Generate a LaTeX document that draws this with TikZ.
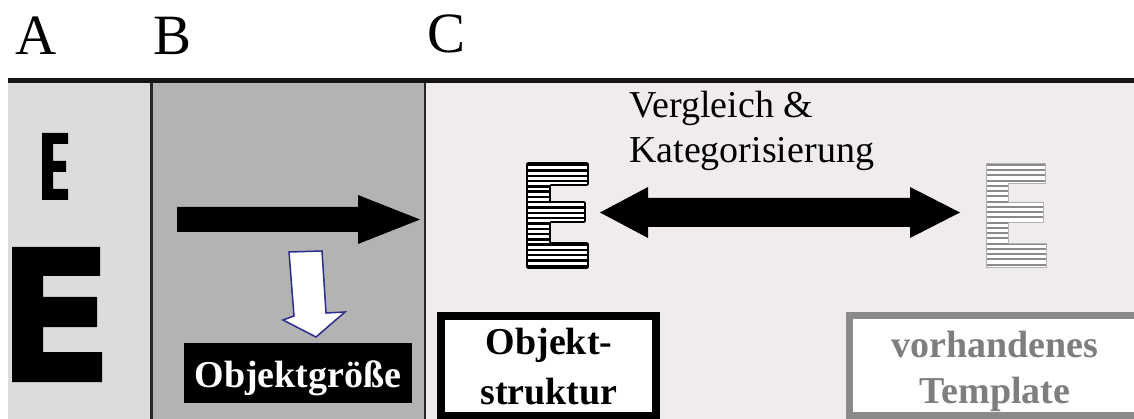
\documentclass[tikz,border=0pt]{standalone}
\usepackage{fontspec}
\setmainfont{Liberation Serif}
\definecolor{panelA}{HTML}{DCDCDC}
\definecolor{panelB}{HTML}{B3B3B3}
\definecolor{panelC}{HTML}{EFECEB}
\definecolor{topline}{HTML}{151515}
\definecolor{arrowBlue}{HTML}{2B2B8C}
\definecolor{tmplGray}{HTML}{8A8A8A}
\definecolor{tmplText}{HTML}{7E7E7E}
\tikzset{
  headlabel/.style={anchor=base west, inner sep=0pt, font=\fontsize{57}{57}\selectfont},
  midtext/.style={anchor=base west, inner sep=0pt, font=\fontsize{38}{38}\selectfont},
  boldtext/.style={anchor=base, inner sep=0pt, font=\bfseries\fontsize{38}{38}\selectfont},
  blockarrow/.style={fill=black},
}
\begin{document}
\begin{tikzpicture}[x=1pt,y=-1pt]
\useasboundingbox (0,0) rectangle (1134,419);
\begin{scope}
\clip (0,0) rectangle (1134,419);
\fill[white] (0,0) rectangle (1134,419);
% panels
\fill[panelA] (8,80) rectangle (151,419);
\fill[panelB] (151,80) rectangle (425,419);
\fill[panelC] (425,80) rectangle (1134,419);
\draw[line width=2.5pt, black!85] (151.5,80) -- (151.5,419);
\draw[line width=2pt, black!85] (425,80) -- (425,419);
\draw[line width=5pt, topline] (8,80.5) -- (1134,80.5);

% labels
\node[headlabel] (lA) at (15,55) {A};
\node[headlabel] (lB) at (153,55) {B};
\node[headlabel] (lC) at (427,53) {C};

% panel A letters
\fill[black] (42,133) -- (68,133) -- (68,144) -- (53,144) -- (53,161) -- (66,161) -- (66,172) -- (53,172) -- (53,189) -- (68,189) -- (68,200) -- (42,200) -- cycle;
\fill[black] (12,247) -- (100,247) -- (100,276) -- (43,276) -- (43,297) -- (97,297) -- (97,327) -- (43,327) -- (43,352) -- (102,352) -- (102,382) -- (12,382) -- cycle;

% panel B
\fill[blockarrow] (177,207) -- (358,207) -- (358,195) -- (420,219.5) -- (358,244) -- (358,232) -- (177,232) -- cycle;
\filldraw[fill=white, draw=arrowBlue, line width=1.5pt, line join=miter]
  (289,252) -- (322,251) -- (326,313) -- (345,312) -- (316,337) -- (283,320) -- (294,316) -- cycle;
\node[fill=black, minimum width=228pt, minimum height=60pt, inner sep=0pt, anchor=north west] (sizebox) at (184,343) {};
\node[boldtext, text=white] (sizetxt) at (298,387) {Objektgröße};

% panel C: hatched E (structure)
\begin{scope}
\clip (527,163) -- (588,163) -- (588,185) -- (550,185) -- (550,202) -- (585,202) -- (585,222) -- (550,222) -- (550,243) -- (588,243) -- (588,268) -- (527,268) -- cycle;
\fill[white] (520,158) rectangle (595,272);
\foreach \k in {0,...,19} \draw[line width=2.4pt] (520,{165.2+\k*5.3}) -- (595,{165.2+\k*5.3});
\end{scope}
\draw[line width=1.6pt, rounded corners=1pt] (527,163) -- (588,163) -- (588,185) -- (550,185) -- (550,202) -- (585,202) -- (585,222) -- (550,222) -- (550,243) -- (588,243) -- (588,268) -- (527,268) -- cycle;

% panel C: hatched E (template)
\begin{scope}
\clip (986,163) -- (1045,163) -- (1045,183) -- (1008,183) -- (1008,202) -- (1043,202) -- (1043,222) -- (1008,222) -- (1008,243) -- (1046,243) -- (1046,267) -- (986,267) -- cycle;
\fill[white] (980,158) rectangle (1050,272);
\foreach \k in {0,...,19} \draw[line width=2pt, tmplGray] (980,{165+\k*5.25}) -- (1050,{165+\k*5.25});
\end{scope}
\draw[line width=0.8pt, black!30] (986,163) -- (1045,163) -- (1045,183) -- (1008,183) -- (1008,202) -- (1043,202) -- (1043,222) -- (1008,222) -- (1008,243) -- (1046,243) -- (1046,267) -- (986,267) -- cycle;

% double arrow
\fill[blockarrow] (600,212.5) -- (648,187) -- (648,198) -- (910,198) -- (910,187) -- (960,212.5) -- (910,238) -- (910,227) -- (648,227) -- (648,238) -- cycle;
\node[midtext] (cmp1) at (629,118) {Vergleich \&};
\node[midtext] (cmp2) at (629,163) {Kategorisierung};

% boxes
\draw[line width=8pt, fill=white] (441,316) rectangle (656,415.5);
\node[boldtext] (obj1) at (549,354) {Objekt-};
\node[boldtext] (obj2) at (549,404) {struktur};
\draw[line width=7pt, draw=tmplGray, fill=white] (849.5,315.5) rectangle (1144,415.5);
\node[boldtext, text=tmplText] (tpl1) at (995,357) {vorhandenes};
\node[boldtext, text=tmplText] (tpl2) at (995,403) {Template};
\end{scope}
\end{tikzpicture}
\end{document}
